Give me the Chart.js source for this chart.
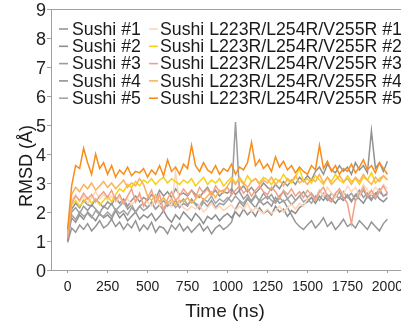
<!DOCTYPE html>
<html>
<head>
<meta charset="utf-8">
<script src="https://cdn.jsdelivr.net/npm/chart.js@4.4.1/dist/chart.umd.min.js"></script>
<style>
  html, body { margin: 0; padding: 0; background: #fff; overflow: hidden; }
  #wrap { width: 401px; height: 328px; }
</style>
</head>
<body>
<div id="wrap"><canvas id="rmsdChart" width="401" height="328"></canvas></div>
<script>
// time in ns, one sample every 25 ns
const times = [0, 25, 50, 75, 100, 125, 150, 175, 200, 225,
  250, 275, 300, 325, 350, 375, 400, 425, 450, 475,
  500, 525, 550, 575, 600, 625, 650, 675, 700, 725,
  750, 775, 800, 825, 850, 875, 900, 925, 950, 975,
  1000, 1025, 1050, 1075, 1100, 1125, 1150, 1175, 1200, 1225,
  1250, 1275, 1300, 1325, 1350, 1375, 1400, 1425, 1450, 1475,
  1500, 1525, 1550, 1575, 1600, 1625, 1650, 1675, 1700, 1725,
  1750, 1775, 1800, 1825, 1850, 1875, 1900, 1925, 1950, 1975, 2000];

// RMSD (Å)
const sushi1 = [0.95, 1.45, 1.30, 1.55, 1.40, 1.60, 1.35, 1.50, 1.70, 1.45,
  1.55, 1.75, 1.50, 1.65, 1.40, 1.60, 1.45, 1.70, 1.35, 1.55,
  1.40, 1.65, 1.30, 1.50, 1.45, 1.25, 1.55, 1.40, 1.60, 1.35,
  1.50, 1.30, 1.45, 1.60, 1.35, 1.50, 1.25, 1.45, 1.55, 1.40,
  1.50, 1.65, 2.10, 2.35, 2.20, 2.45, 2.30, 2.15, 2.40, 2.25,
  2.35, 2.20, 2.50, 2.30, 2.40, 2.15, 1.90, 1.65, 1.50, 1.40,
  1.55, 1.70, 1.45, 1.60, 1.80, 1.50, 1.65, 1.40, 1.55, 1.75,
  1.50, 1.60, 1.45, 1.70, 1.55, 1.40, 1.65, 1.50, 1.35, 1.60, 1.75];
const sushi2 = [1.10, 1.80, 1.65, 1.90, 1.75, 2.00, 1.85, 1.70, 1.95, 1.80,
  1.90, 1.75, 2.05, 1.80, 1.95, 1.70, 1.85, 2.00, 1.75, 1.90,
  1.80, 1.95, 1.70, 1.85, 2.05, 1.80, 1.65, 1.90, 1.75, 2.00,
  1.85, 1.70, 1.95, 1.80, 1.60, 1.85, 1.75, 1.90, 1.70, 1.85,
  1.95, 1.80, 2.00, 1.85, 2.10, 1.90, 2.05, 1.85, 2.15, 1.95,
  2.05, 1.90, 2.20, 2.00, 2.10, 1.85, 2.05, 1.95, 2.15, 2.25,
  2.35, 2.50, 2.30, 2.55, 2.40, 2.60, 2.45, 2.30, 2.50, 2.40,
  2.55, 2.35, 2.60, 2.45, 2.30, 2.55, 2.40, 2.65, 2.45, 2.35, 2.50];
const sushi3 = [1.20, 2.00, 2.15, 1.95, 2.20, 2.05, 2.25, 2.10, 1.95, 2.20,
  2.10, 2.30, 2.05, 2.20, 2.35, 2.10, 2.25, 2.00, 2.20, 2.30,
  2.15, 2.35, 2.10, 2.25, 2.05, 2.30, 2.20, 2.40, 2.15, 2.30,
  2.20, 2.45, 2.25, 2.10, 2.35, 2.20, 2.40, 2.15, 2.30, 2.25,
  2.40, 2.60, 5.10, 2.70, 2.45, 2.60, 2.35, 2.55, 2.40, 2.65,
  2.45, 2.60, 2.35, 2.55, 2.70, 2.45, 2.60, 2.40, 2.55, 2.70,
  2.50, 2.65, 2.45, 2.75, 2.55, 2.40, 2.65, 2.50, 2.70, 2.45,
  2.60, 2.40, 2.55, 2.75, 2.50, 2.65, 2.45, 2.60, 2.80, 2.55, 2.65];
const sushi4 = [1.00, 2.10, 2.30, 2.15, 2.40, 2.25, 2.20, 2.45, 2.30, 2.15,
  2.35, 2.25, 2.50, 2.30, 2.45, 2.20, 2.40, 2.55, 2.35, 2.50,
  2.40, 2.60, 2.45, 2.75, 2.55, 2.70, 2.50, 2.80, 2.60, 2.65,
  2.55, 2.75, 2.60, 2.50, 2.70, 2.85, 2.60, 2.75, 2.55, 2.70,
  2.65, 2.80, 2.60, 2.75, 2.90, 2.70, 2.85, 2.65, 2.80, 3.00,
  2.85, 2.75, 2.95, 2.80, 3.05, 2.90, 3.10, 2.95, 3.20, 3.05,
  3.25, 3.10, 3.40, 3.55, 3.30, 3.65, 3.45, 3.35, 3.60, 3.40,
  3.55, 3.30, 3.70, 3.45, 3.60, 3.35, 4.80, 3.50, 3.70, 3.40, 3.75];
const sushi5 = [1.15, 1.90, 1.75, 2.00, 1.85, 1.95, 1.80, 2.05, 1.90, 1.85,
  2.00, 1.85, 2.10, 1.95, 2.05, 1.90, 2.15, 2.00, 2.20, 2.05,
  2.15, 2.30, 2.10, 2.25, 2.40, 2.20, 2.35, 2.15, 2.30, 2.45,
  2.25, 2.40, 2.30, 2.20, 2.45, 2.35, 2.55, 2.30, 2.45, 2.35,
  2.50, 2.35, 2.55, 2.40, 2.30, 2.50, 2.40, 2.60, 2.35, 2.45,
  2.55, 2.40, 2.30, 2.50, 2.35, 2.45, 2.25, 2.40, 2.55, 2.35,
  2.45, 2.30, 2.55, 2.40, 2.65, 2.45, 2.35, 2.60, 2.45, 2.70,
  2.50, 2.65, 2.40, 2.55, 2.75, 2.50, 2.60, 2.45, 2.70, 2.55, 2.60];
const mutant1 = [1.30, 2.40, 2.60, 2.35, 2.55, 2.30, 2.50, 2.70, 2.45, 2.60,
  2.40, 2.55, 2.35, 2.50, 2.30, 2.45, 2.25, 2.40, 2.55, 2.30,
  2.35, 2.20, 2.45, 2.25, 2.15, 2.35, 2.20, 3.40, 2.25, 2.15,
  2.05, 2.20, 2.10, 2.25, 2.00, 2.15, 2.30, 2.10, 2.20, 2.05,
  2.15, 2.25, 2.05, 2.20, 2.10, 2.30, 2.00, 2.15, 2.05, 1.95,
  2.10, 1.95, 2.05, 2.20, 2.00, 2.15, 2.25, 2.10, 2.30, 2.20,
  2.45, 2.60, 2.40, 2.75, 2.55, 2.85, 2.65, 2.50, 2.80, 2.60,
  2.90, 2.70, 2.85, 2.55, 2.95, 2.75, 2.60, 2.85, 2.70, 2.95, 2.80];
const mutant2 = [1.20, 2.25, 2.40, 2.20, 2.35, 2.50, 2.30, 2.45, 2.25, 2.40,
  2.55, 2.35, 2.60, 2.80, 2.70, 2.95, 2.85, 3.05, 2.90, 3.10,
  3.00, 3.15, 2.95, 3.10, 3.20, 3.00, 3.15, 3.05, 2.95, 3.10,
  3.00, 3.15, 2.90, 3.05, 3.20, 2.95, 3.10, 3.00, 3.15, 2.90,
  3.05, 3.20, 3.00, 3.10, 2.95, 3.25, 3.05, 3.15, 3.00, 3.20,
  3.10, 2.95, 3.15, 3.05, 3.30, 3.10, 3.00, 3.20, 3.50, 3.05,
  3.15, 3.00, 3.25, 3.10, 2.95, 3.20, 3.05, 3.30, 3.10, 3.00,
  3.25, 3.05, 3.15, 2.95, 3.20, 3.10, 3.35, 3.00, 3.15, 3.25, 3.10];
const mutant3 = [1.10, 2.30, 2.55, 2.40, 2.65, 2.45, 2.60, 2.35, 2.55, 2.70,
  2.50, 2.75, 2.40, 2.60, 2.30, 2.55, 2.80, 2.35, 2.65, 2.20,
  2.50, 2.75, 2.30, 2.60, 2.05, 2.45, 2.70, 2.40, 2.55, 2.80,
  2.60, 2.75, 2.50, 2.85, 2.65, 2.80, 2.55, 2.90, 2.70, 2.75,
  2.85, 2.60, 2.75, 2.90, 2.65, 2.80, 2.55, 2.75, 2.90, 2.70,
  2.60, 2.85, 2.70, 2.45, 2.75, 2.60, 2.80, 2.55, 2.70, 2.50,
  2.75, 2.60, 2.40, 2.70, 2.85, 2.55, 2.35, 2.65, 2.80, 2.50,
  2.30, 1.60, 2.40, 2.65, 2.85, 2.55, 2.75, 2.50, 2.70, 2.90, 2.65];
const mutant4 = [1.25, 2.60, 2.85, 2.70, 2.95, 2.80, 3.00, 2.75, 2.90, 3.05,
  2.85, 3.00, 2.80, 2.95, 3.10, 2.85, 3.00, 2.90, 3.15, 2.95,
  2.55, 2.40, 2.60, 2.35, 2.50, 2.30, 2.45, 2.25, 2.40, 2.35,
  2.50, 2.30, 2.45, 2.60, 2.40, 2.55, 2.70, 2.50, 2.75, 2.65,
  2.90, 3.10, 2.95, 3.20, 3.00, 2.85, 3.05, 3.15, 2.95, 3.10,
  3.00, 3.20, 2.95, 3.10, 2.90, 3.15, 3.05, 3.25, 3.00, 3.10,
  2.95, 3.15, 3.05, 3.30, 3.00, 3.20, 2.95, 3.10, 3.25, 3.05,
  3.15, 2.95, 3.20, 3.05, 3.30, 3.10, 2.95, 3.20, 3.05, 3.25, 3.10];
const mutant5 = [1.40, 2.90, 3.60, 3.50, 4.20, 3.70, 3.30, 4.00, 3.50, 3.70,
  3.30, 3.60, 3.20, 3.45, 3.30, 3.55, 3.25, 3.40, 3.35, 3.50,
  3.20, 3.45, 3.30, 3.60, 3.25, 3.80, 3.40, 3.55, 3.30, 3.65,
  3.50, 4.30, 3.60, 3.40, 3.70, 3.45, 3.35, 3.60, 3.30, 3.50,
  3.40, 3.65, 3.30, 3.55, 3.45, 3.70, 4.40, 3.60, 3.80, 3.50,
  3.65, 3.40, 3.90, 3.55, 3.75, 3.45, 3.60, 3.35, 3.55, 3.40,
  3.30, 3.60, 3.45, 4.30, 3.50, 3.75, 3.40, 3.60, 3.30, 3.50,
  3.40, 3.65, 3.35, 3.55, 3.80, 3.45, 3.60, 3.35, 3.70, 3.50, 3.30];

const seriesNames = ['Sushi #1', 'Sushi #2', 'Sushi #3', 'Sushi #4', 'Sushi #5',
  'Sushi L223R/L254R/V255R #1', 'Sushi L223R/L254R/V255R #2', 'Sushi L223R/L254R/V255R #3',
  'Sushi L223R/L254R/V255R #4', 'Sushi L223R/L254R/V255R #5'];
const seriesValues = [sushi1, sushi2, sushi3, sushi4, sushi5, mutant1, mutant2, mutant3, mutant4, mutant5];
const seriesColors = ['#969696', '#8e8e8e', '#9c9c9c', '#929292', '#a4a4a4',
  '#fdd6ba', '#f6d11a', '#f2a185', '#fbb258', '#f78d1a'];
const xTicks = [0, 250, 500, 750, 1000, 1250, 1500, 1750, 2000];

const FONT = 'Liberation Sans, Arial, sans-serif';

const datasets = seriesValues.map((vals, i) => ({
  label: seriesNames[i],
  data: vals.map((v, k) => ({ x: times[k], y: v })),
  borderColor: seriesColors[i],
  borderWidth: 1.5,
  pointRadius: 0,
  fill: false,
  tension: 0,
  order: 10 - i
}));

// two-column legend, top frame line and axis titles
const decorations = {
  id: 'decorations',
  afterDraw(chart) {
    const c = chart.ctx;
    const area = chart.chartArea;
    c.save();
    c.strokeStyle = '#a0a0a0';
    c.lineWidth = 1;
    c.beginPath();
    c.moveTo(area.left, Math.round(area.top) + 0.5);
    c.lineTo(area.right, Math.round(area.top) + 0.5);
    c.stroke();

    c.font = '17.7px ' + FONT;
    c.textBaseline = 'middle';
    c.fillStyle = '#1a1a1a';
    chart.data.datasets.forEach((ds, i) => {
      const col = i < 5 ? 0 : 1;
      const row = i % 5;
      const y = 29 + row * 17.3;
      const lx = col === 0 ? 59 : 149;
      c.strokeStyle = ds.borderColor;
      c.lineWidth = 1.6;
      c.beginPath();
      c.moveTo(lx, y);
      c.lineTo(lx + 9, y);
      c.stroke();
      c.fillText(ds.label, col === 0 ? 72 : 160, y + 1);
    });

    c.font = '19px ' + FONT;
    c.textAlign = 'center';
    c.textBaseline = 'alphabetic';
    c.fillText('Time (ns)', 225, 317);
    c.translate(32, 166);
    c.rotate(-Math.PI / 2);
    c.font = '18px ' + FONT;
    c.fillText('RMSD (Å)', 0, 0);
    c.restore();
  }
};

new Chart(document.getElementById('rmsdChart'), {
  type: 'line',
  data: { datasets },
  options: {
    responsive: false,
    animation: false,
    events: [],
    layout: { padding: { top: 9, left: 0, right: 0, bottom: 0 } },
    plugins: { legend: { display: false }, tooltip: { enabled: false } },
    scales: {
      x: {
        type: 'linear',
        min: -104,
        max: 2085,
        afterBuildTicks: (s) => { s.ticks = xTicks.map(v => ({ value: v })); },
        afterFit: (s) => { s.height = 58; s.paddingLeft = 0; s.paddingRight = 0; },
        grid: { drawOnChartArea: false, drawTicks: true, tickLength: 3, color: '#a0a0a0' },
        border: { color: '#a0a0a0', width: 1 },
        ticks: { color: '#222', font: { family: FONT, size: 14 }, padding: 6, maxRotation: 0, autoSkip: false,
          callback: (v) => String(v) }
      },
      y: {
        min: 0,
        max: 9,
        afterFit: (s) => { s.width = 51; s.paddingTop = 0; s.paddingBottom = 0; },
        grid: { drawOnChartArea: false, drawTicks: true, tickLength: 4, color: '#a0a0a0' },
        border: { color: '#a0a0a0', width: 1 },
        ticks: { stepSize: 1, color: '#222', font: { family: FONT, size: 18 }, padding: 1, labelOffset: 2 }
      }
    }
  },
  plugins: [decorations]
});
</script>
</body>
</html>
